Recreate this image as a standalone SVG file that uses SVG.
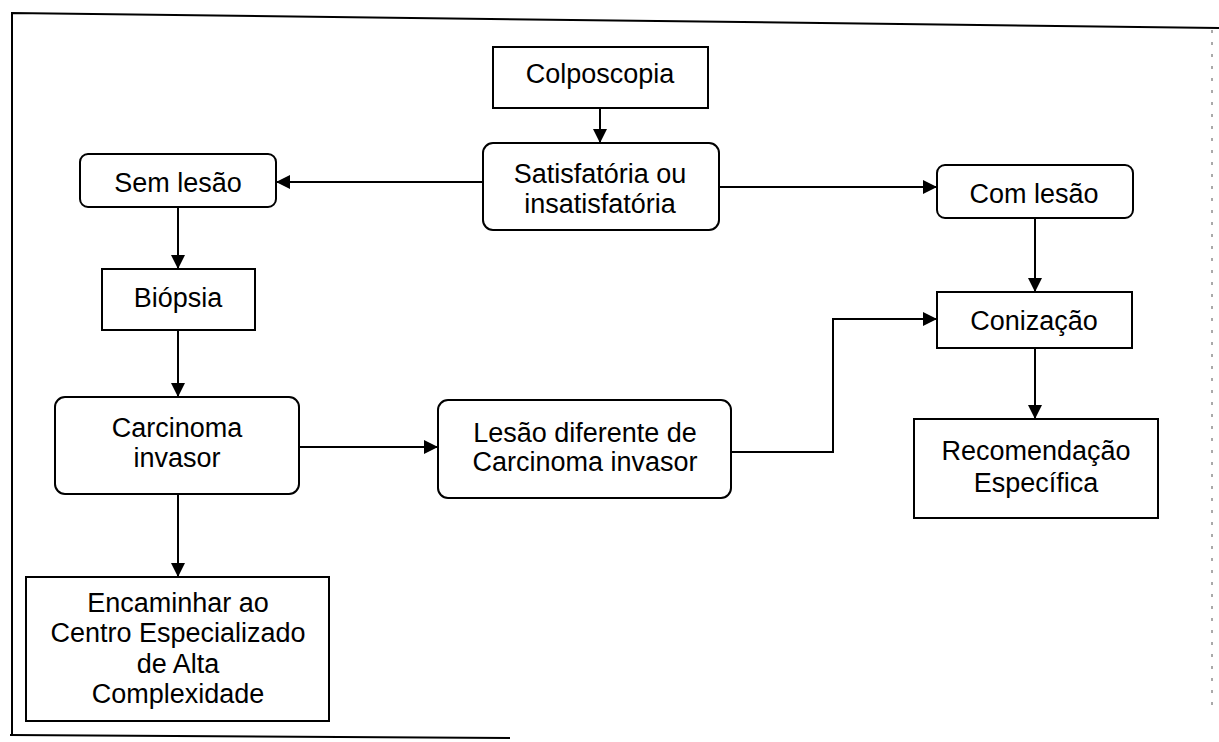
<svg xmlns="http://www.w3.org/2000/svg" width="1219" height="742" viewBox="0 0 1219 742">
  <style>
    .box { fill: #ffffff; stroke: #000000; stroke-width: 2; }
    .lbl { font-family: "Liberation Sans", Arial, sans-serif; font-size: 27px; fill: #000000; text-anchor: middle; }
    .edge { fill: none; stroke: #000000; stroke-width: 2; }
    .frame { fill: none; stroke: #000000; stroke-width: 2; }
  </style>
  <defs>
    <marker id="arrow" markerWidth="14" markerHeight="14" refX="14" refY="7" orient="auto" markerUnits="userSpaceOnUse">
      <path d="M0,0 L14,7 L0,14 Z" fill="#000000"/>
    </marker>
  </defs>

  <rect width="1219" height="742" fill="#ffffff"/>

  <!-- page frame -->
  <g id="frame">
    <path class="frame" d="M12,735 L12,13 L1219,28"/>
    <path class="frame" d="M10,735 L510,738"/>
    <path d="M1212,30 L1212,705" fill="none" stroke="#555555" stroke-width="1" stroke-dasharray="3 9"/>
  </g>

  <!-- connectors -->
  <g id="connectors">
    <path class="edge" d="M600,108 L600,143" marker-end="url(#arrow)"/>
    <path class="edge" d="M483,182 L276,182" marker-end="url(#arrow)"/>
    <path class="edge" d="M719,187 L937,187" marker-end="url(#arrow)"/>
    <path class="edge" d="M178,207 L178,269" marker-end="url(#arrow)"/>
    <path class="edge" d="M178,330 L178,397" marker-end="url(#arrow)"/>
    <path class="edge" d="M299,447 L438,447" marker-end="url(#arrow)"/>
    <path class="edge" d="M731,452 L833,452 L833,319 L937,319" marker-end="url(#arrow)"/>
    <path class="edge" d="M1035,218 L1035,292" marker-end="url(#arrow)"/>
    <path class="edge" d="M1035,348 L1035,419" marker-end="url(#arrow)"/>
    <path class="edge" d="M178,494 L178,577" marker-end="url(#arrow)"/>
  </g>

  <g id="colposcopia">
    <rect class="box" x="493" y="47" width="215" height="61"/>
    <text class="lbl" x="600" y="83">Colposcopia</text>
  </g>

  <g id="satisfatoria">
    <rect class="box" x="483" y="143" width="236" height="87" rx="10"/>
    <text class="lbl" x="600" y="183">Satisfatória ou</text>
    <text class="lbl" x="600" y="213">insatisfatória</text>
  </g>

  <g id="sem-lesao">
    <rect class="box" x="80" y="154" width="196" height="53" rx="8"/>
    <text class="lbl" x="178" y="192">Sem lesão</text>
  </g>

  <g id="com-lesao">
    <rect class="box" x="937" y="165" width="196" height="53" rx="8"/>
    <text class="lbl" x="1034" y="203">Com lesão</text>
  </g>

  <g id="biopsia">
    <rect class="box" x="102" y="269" width="153" height="61"/>
    <text class="lbl" x="178" y="307">Biópsia</text>
  </g>

  <g id="carcinoma">
    <rect class="box" x="55" y="397" width="244" height="97" rx="10"/>
    <text class="lbl" x="177" y="437">Carcinoma</text>
    <text class="lbl" x="177" y="467">invasor</text>
  </g>

  <g id="lesao-diferente">
    <rect class="box" x="438" y="400" width="293" height="98" rx="10"/>
    <text class="lbl" x="585" y="442">Lesão diferente de</text>
    <text class="lbl" x="585" y="471">Carcinoma invasor</text>
  </g>

  <g id="conizacao">
    <rect class="box" x="937" y="292" width="195" height="56"/>
    <text class="lbl" x="1034" y="330">Conização</text>
  </g>

  <g id="recomendacao">
    <rect class="box" x="914" y="419" width="244" height="99"/>
    <text class="lbl" x="1036" y="460">Recomendação</text>
    <text class="lbl" x="1036" y="492">Específica</text>
  </g>

  <g id="encaminhar">
    <rect class="box" x="26" y="577" width="303" height="144"/>
    <text class="lbl" x="178" y="612">Encaminhar ao</text>
    <text class="lbl" x="178" y="642">Centro Especializado</text>
    <text class="lbl" x="178" y="673">de Alta</text>
    <text class="lbl" x="178" y="703">Complexidade</text>
  </g>
</svg>
